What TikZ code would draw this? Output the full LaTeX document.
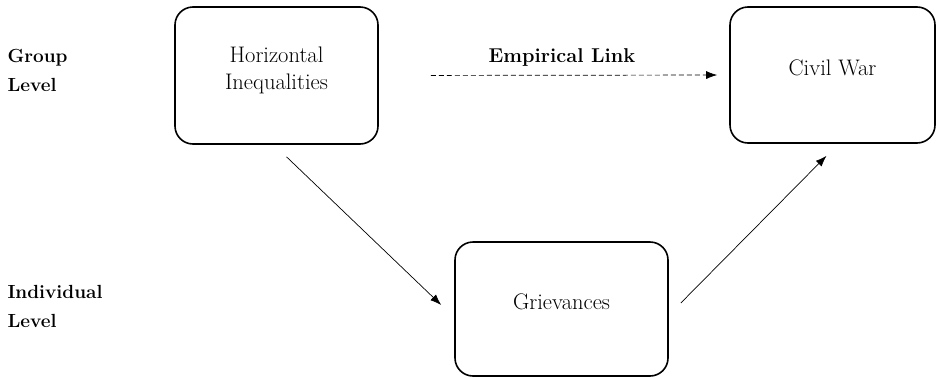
\documentclass[tikz,border=0pt]{standalone}
\usetikzlibrary{arrows.meta}
\begin{document}
\begin{tikzpicture}[x=1pt,y=-1pt,
    box/.style={draw,line width=1.6pt,rounded corners=18pt,align=center,
      text depth=15pt,font=\fontsize{22.5}{27}\selectfont},
    lvl/.style={anchor=west,align=left,font=\fontsize{19}{29}\selectfont\bfseries},
    link/.style={line width=0.7pt,-{Latex[length=11pt,width=8pt]}}]
  \useasboundingbox (0,0) rectangle (937,378);
  % level labels
  \node[lvl] (grp) at (4,70) {Group\\Level};
  \node[lvl] (ind) at (4,306) {Individual\\Level};
  % boxes
  \node[box,minimum width=203pt,minimum height=137pt] (hi) at (276.5,75.5) {Horizontal\\Inequalities};
  \node[box,minimum width=205pt,minimum height=136pt] (cw) at (832.5,75) {Civil War};
  \node[box,minimum width=213pt,minimum height=134pt] (gr) at (561.5,309) {Grievances};
  % links
  \draw[link,dash pattern=on 5pt off 3pt,shorten <=52pt,shorten >=12pt] (hi.east) -- (cw.west);
  \node[font=\fontsize{20}{24}\selectfont\bfseries] (el) at (562,57) {Empirical Link};
  \draw[link] ([xshift=10pt,yshift=-12pt]hi.south) -- ([xshift=-13pt,yshift=4pt]gr.west);
  \draw[link] ([xshift=12pt,yshift=6pt]gr.east) -- ([xshift=-6pt,yshift=-12pt]cw.south);
\end{tikzpicture}
\end{document}
